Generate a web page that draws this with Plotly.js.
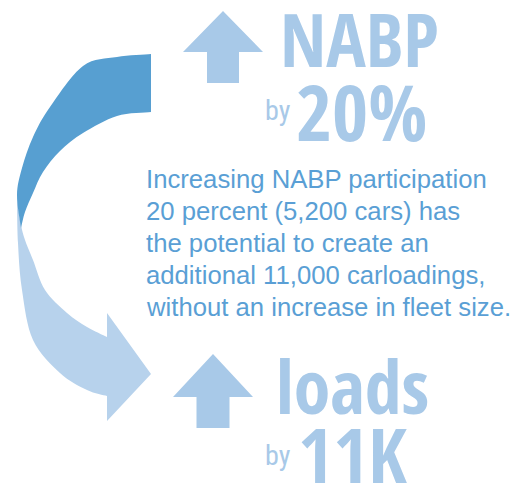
<!DOCTYPE html>
<html>
<head>
<meta charset="utf-8">
<script src="https://cdn.plot.ly/plotly-3.0.1.min.js"></script>
<style>html,body{margin:0;padding:0;background:#fff;}#chart{width:513px;height:488px;}</style>
</head>
<body>
<div id="chart"></div>
<script>
// ---- content ----
const headlineTop = "NABP";
const headlineTopAmount = "20%";
const headlineBottom = "loads";
const headlineBottomAmount = "11K";
const byWord = "by";
const descLines = [
  "Increasing NABP participation",
  "20 percent (5,200 cars) has",
  "the potential to create an",
  "additional 11,000 carloadings,",
  "without an increase in fleet size."
];

// ---- colours ----
const darkBlue = "#579fd1";
const paleArrow = "#b7d2ec";
const paleText = "#a8c9e8";
const textBlue = "#5a9fd5";

// ---- decorative geometry (canvas units = pixels) ----
const darkOuter = [[151,54],[117,57],[83,66],[50,107],[33,137],[22,168],[17,195],[21,228]];
const darkInner = [[21,228],[25,212],[33,193],[43,172],[60,151],[83,133],[117,116],[151,112]];
const lightOuter = [[17,193],[18,243],[22,290],[33,340],[60,373],[87,390],[107,396]];
const lightInner = [[107,337],[87,327],[67,313],[45,290],[33,260],[25,240],[21,225],[18,205],[17,193]];
const lightHead = [[107,396],[107,421],[151,374],[107,313],[107,337]];

function smooth(pts, start) {
  let d = start ? "M" + pts[0][0] + "," + pts[0][1] : "";
  for (let i = 0; i < pts.length - 1; i++) {
    const p0 = pts[Math.max(0, i - 1)], p1 = pts[i], p2 = pts[i + 1], p3 = pts[Math.min(pts.length - 1, i + 2)];
    const c1 = [p1[0] + (p2[0] - p0[0]) / 6, p1[1] + (p2[1] - p0[1]) / 6];
    const c2 = [p2[0] - (p3[0] - p1[0]) / 6, p2[1] - (p3[1] - p1[1]) / 6];
    d += " C" + c1[0].toFixed(2) + "," + c1[1].toFixed(2) + " " + c2[0].toFixed(2) + "," + c2[1].toFixed(2) + " " + p2[0] + "," + p2[1];
  }
  return d;
}
function poly(pts) { return pts.map(p => " L" + p[0] + "," + p[1]).join(""); }
function upArrow(cx, tipY, wingY, baseY, halfWing, halfStem) {
  return "M" + cx + "," + tipY + " L" + (cx + halfWing) + "," + wingY + " L" + (cx + halfStem) + "," + wingY +
    " L" + (cx + halfStem) + "," + baseY + " L" + (cx - halfStem) + "," + baseY + " L" + (cx - halfStem) + "," + wingY +
    " L" + (cx - halfWing) + "," + wingY + " Z";
}

const lightPath = smooth(lightOuter, true) + poly(lightHead) + smooth(lightInner, false) + " Z";
const darkPath = smooth(darkOuter, true) + smooth(darkInner, false) + " Z";

const shapes = [
  {type: "path", xref: "x", yref: "y", path: lightPath, fillcolor: paleArrow, line: {width: 0}, layer: "below"},
  {type: "path", xref: "x", yref: "y", path: darkPath, fillcolor: darkBlue, line: {width: 0}, layer: "below"},
  {type: "path", xref: "x", yref: "y", path: upArrow(223, 11, 52, 83, 40, 16), fillcolor: paleText, line: {width: 0}, layer: "below"},
  {type: "path", xref: "x", yref: "y", path: upArrow(213, 354, 397, 428, 40, 16.5), fillcolor: paleText, line: {width: 0}, layer: "below"}
];

const cond = "Open Sans Condensed, Roboto Condensed, sans-serif";
const condLight = "Roboto Condensed, Open Sans Condensed, sans-serif";
const sans = "Liberation Sans, Arial, Helvetica, sans-serif";
// Open Sans line box: ascent 1.069em, descent 0.293em, cap height 0.714em
function condAnn(text, x, capTop, size, weight) {
  return {text: text, x: x, y: capTop + 0.326 * size, xref: "x", yref: "y", xanchor: "left", yanchor: "middle",
    showarrow: false, borderpad: 0, font: {family: cond, size: size, color: paleText, weight: weight}};
}
// Roboto line box: ascent 0.927em, descent 0.244em
function byAnn(x, baseline, size) {
  return {text: byWord, x: x, y: baseline - 0.341 * size, xref: "x", yref: "y", xanchor: "left", yanchor: "middle",
    showarrow: false, borderpad: 0, font: {family: condLight, size: size, color: paleText, weight: 400}};
}
function lineAnn(text, x, baseline, size) {
  return {text: text, x: x, y: baseline + 0.212 * size, xref: "x", yref: "y", xanchor: "left", yanchor: "bottom",
    showarrow: false, borderpad: 0, font: {family: sans, size: size, color: textBlue}};
}

const annotations = [
  condAnn(headlineTop, 279, 14, 74, 700),
  byAnn(264, 120, 28),
  condAnn(headlineTopAmount, 295, 86, 78, 700),
  condAnn(headlineBottom, 275, 361, 74, 700),
  byAnn(264, 465, 28),
  condAnn(headlineBottomAmount, 297, 429, 76, 700)
];
const firstBaseline = 189, lineStep = 32;
descLines.forEach((t, i) => annotations.push(lineAnn(t, 145, firstBaseline + i * lineStep, 25.7)));

const layout = {
  width: 513, height: 488,
  margin: {l: 0, r: 0, t: 0, b: 0},
  paper_bgcolor: "#ffffff", plot_bgcolor: "#ffffff",
  xaxis: {range: [0, 513], visible: false, fixedrange: true},
  yaxis: {range: [488, 0], visible: false, fixedrange: true},
  shapes: shapes,
  annotations: annotations,
  showlegend: false
};

Plotly.newPlot("chart", [{x: [], y: [], type: "scatter", mode: "markers", hoverinfo: "skip"}], layout, {staticPlot: true, displayModeBar: false});
</script>
</body>
</html>
